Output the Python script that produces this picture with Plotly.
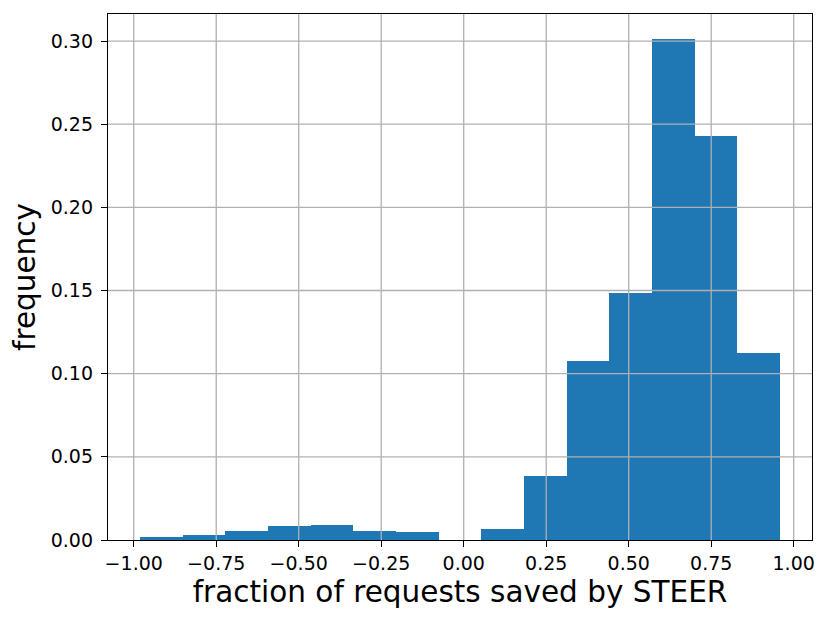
"""Histogram of the fraction of requests saved by STEER."""
import plotly.graph_objects as go

# histogram bin edges (15 equal bins) and per-bin frequency (weights sum to ~1)
bin_edges = [-0.981, -0.8517, -0.7224, -0.5931, -0.4638, -0.3345, -0.2052, -0.0759,
             0.0534, 0.1827, 0.312, 0.4413, 0.5706, 0.6999, 0.8292, 0.9585]
frequency = [0.0016, 0.0032, 0.0052, 0.0084, 0.0090, 0.0052, 0.0046, 0.0,
             0.0067, 0.0387, 0.1077, 0.1486, 0.3012, 0.2432, 0.1123]

x_ticks = [-1.0, -0.75, -0.5, -0.25, 0.0, 0.25, 0.5, 0.75, 1.0]
y_ticks = [0.0, 0.05, 0.10, 0.15, 0.20, 0.25, 0.30]

x_label = "fraction of requests saved by STEER"
y_label = "frequency"

centers = [(a + b) / 2 for a, b in zip(bin_edges[:-1], bin_edges[1:])]
widths = [b - a for a, b in zip(bin_edges[:-1], bin_edges[1:])]

span = bin_edges[-1] - bin_edges[0]
x_range = [bin_edges[0] - 0.05 * span, bin_edges[-1] + 0.05 * span]
y_range = [0, max(frequency) * 1.05]

fig = go.Figure(
    go.Bar(
        x=centers,
        y=frequency,
        width=widths,
        marker=dict(color="#1f77b4", line=dict(width=0)),
        hoverinfo="x+y",
    )
)

# matplotlib draws the grid over the bars, so use shapes on the top layer
grid_style = dict(color="#b0b0b0", width=1.3)
shapes = []
for xv in x_ticks:
    shapes.append(dict(type="line", xref="x", yref="paper", x0=xv, x1=xv, y0=0, y1=1,
                       line=grid_style, layer="above"))
for yv in y_ticks[1:]:
    shapes.append(dict(type="line", xref="paper", yref="y", x0=0, x1=1, y0=yv, y1=yv,
                       line=grid_style, layer="above"))

axis_common = dict(
    showgrid=False,
    zeroline=False,
    showline=True,
    linecolor="black",
    linewidth=1.4,
    mirror=True,
    ticks="outside",
    ticklen=6,
    tickwidth=1.4,
    tickcolor="black",
    tickfont=dict(family="DejaVu Sans", size=19, color="black"),
    layer="above traces",
)

title_font = dict(family="DejaVu Sans", size=29.5, color="black")

# the page body has an 8px default margin, so the figure is a bit smaller
fig.update_layout(
    width=823,
    height=615,
    margin=dict(l=100, r=19, t=6, b=83),
    paper_bgcolor="white",
    plot_bgcolor="white",
    showlegend=False,
    bargap=0,
    shapes=shapes,
    xaxis=dict(
        axis_common,
        range=x_range,
        tickvals=x_ticks,
        tickformat=".2f",
        ticklabelstandoff=0,
        title=dict(text=x_label, font=title_font, standoff=8),
    ),
    yaxis=dict(
        axis_common,
        range=y_range,
        tickvals=y_ticks,
        tickformat=".2f",
        ticklabelstandoff=4,
        title=dict(text=y_label, font=title_font, standoff=8),
    ),
)

fig.write_html("out.html")
